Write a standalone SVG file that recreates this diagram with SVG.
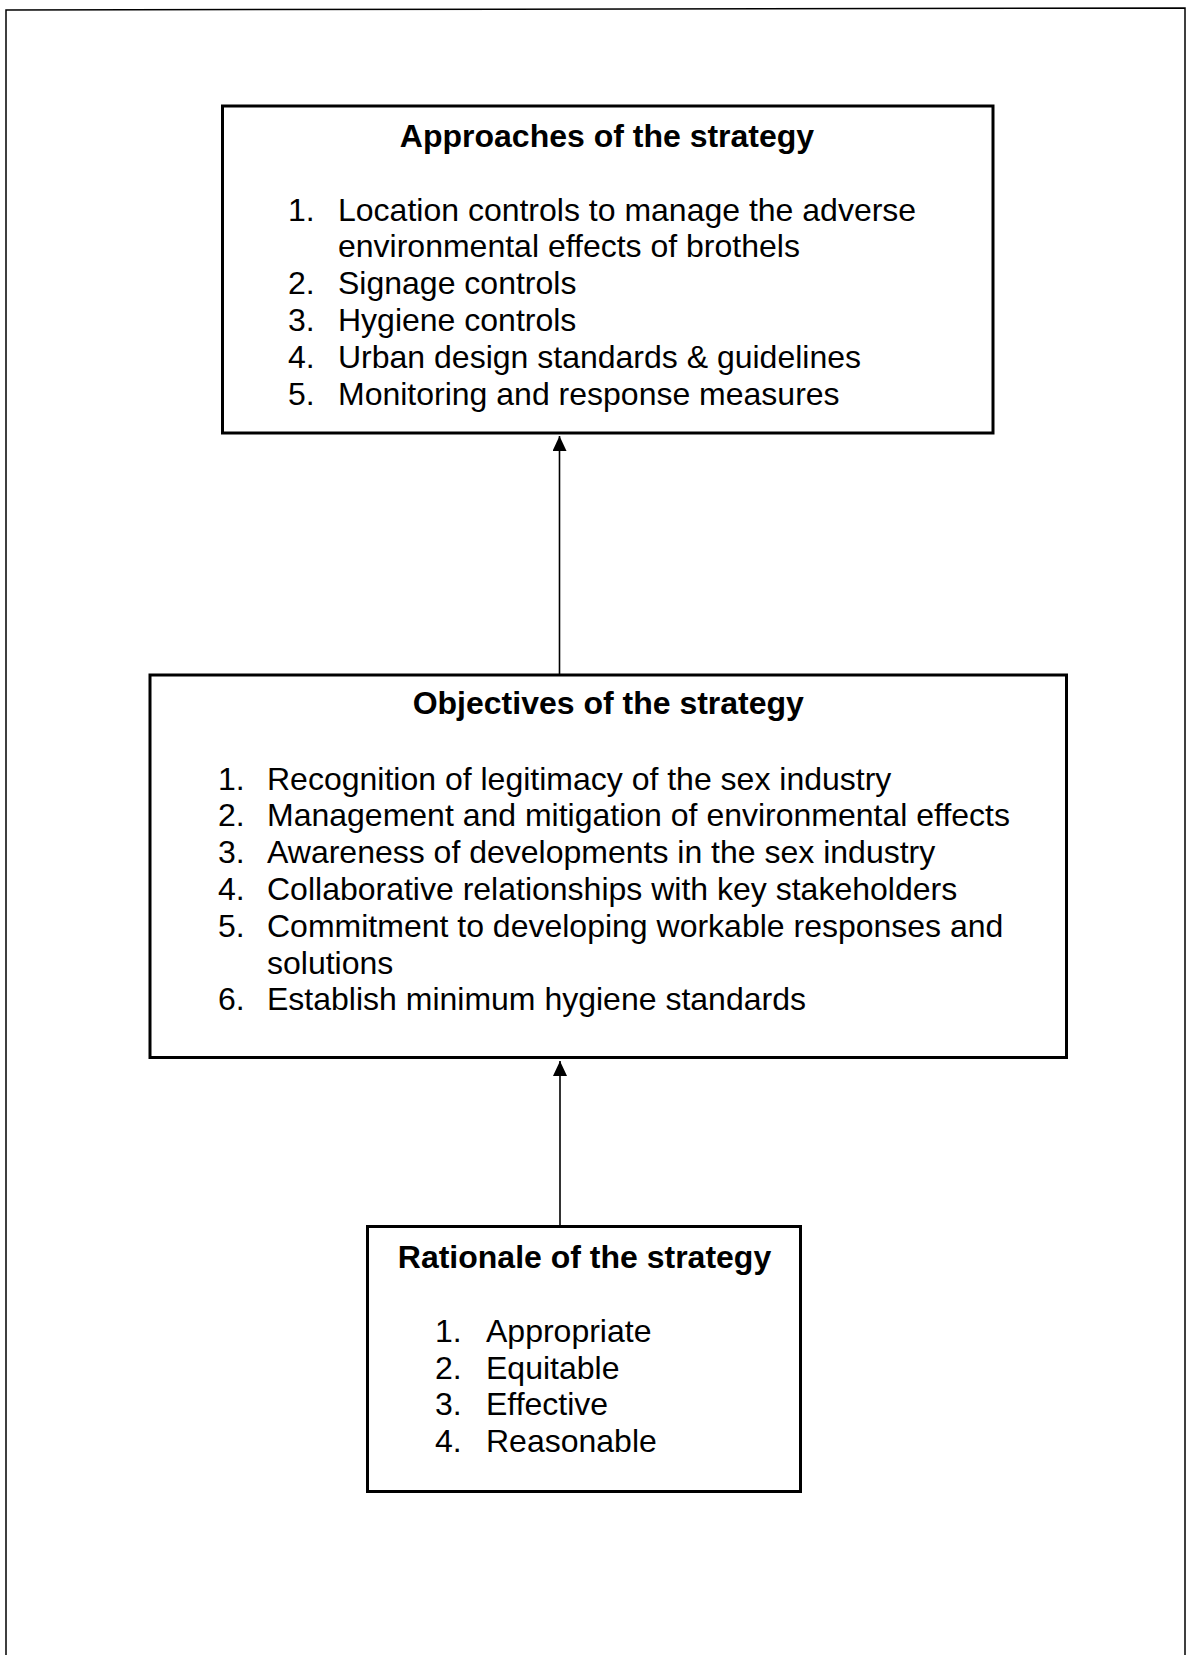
<svg xmlns="http://www.w3.org/2000/svg" width="1187" height="1655" viewBox="0 0 1187 1655">
<style>
.box{fill:#fff;stroke:#000;stroke-width:3}
.t{font-family:"Liberation Sans",Arial,sans-serif;font-size:32px;fill:#000}
.b{font-weight:bold;text-anchor:middle}
.conn{stroke:#000;stroke-width:1.6;fill:none}
</style>
<defs>
<marker id="ah" markerWidth="15" markerHeight="14" refX="15" refY="7" orient="auto" markerUnits="userSpaceOnUse" viewBox="0 0 15 14">
<path d="M0,0 L15,7 L0,14 z" fill="#000"/>
</marker>
</defs>
<rect width="1187" height="1655" fill="#fff"/>
<path d="M6,1655 L6,10 L1185,8 L1185,1655" fill="none" stroke="#000" stroke-width="1.5"/>
<g id="connectors">
<line class="conn" x1="559.5" y1="675" x2="559.5" y2="436" marker-end="url(#ah)"/>
<line class="conn" x1="560" y1="1226" x2="560" y2="1061" marker-end="url(#ah)"/>
</g>
<g id="approaches">
<rect class="box" x="222.5" y="106" width="770.5" height="327"/>
<text class="t b" x="607" y="146.5">Approaches of the strategy</text>
<text class="t" x="288" y="220.5">1.</text><text class="t" x="338" y="220.5">Location controls to manage the adverse</text>
<text class="t" x="338" y="257.3">environmental effects of brothels</text>
<text class="t" x="288" y="294.1">2.</text><text class="t" x="338" y="294.1">Signage controls</text>
<text class="t" x="288" y="330.9">3.</text><text class="t" x="338" y="330.9">Hygiene controls</text>
<text class="t" x="288" y="367.7">4.</text><text class="t" x="338" y="367.7">Urban design standards &amp; guidelines</text>
<text class="t" x="288" y="404.5">5.</text><text class="t" x="338" y="404.5">Monitoring and response measures</text>
</g>
<g id="objectives">
<rect class="box" x="150" y="675" width="916.5" height="382.5"/>
<text class="t b" x="608.3" y="714">Objectives of the strategy</text>
<text class="t" x="218" y="789.5">1.</text><text class="t" x="267" y="789.5">Recognition of legitimacy of the sex industry</text>
<text class="t" x="218" y="826.3">2.</text><text class="t" x="267" y="826.3">Management and mitigation of environmental effects</text>
<text class="t" x="218" y="863.1">3.</text><text class="t" x="267" y="863.1">Awareness of developments in the sex industry</text>
<text class="t" x="218" y="899.9">4.</text><text class="t" x="267" y="899.9">Collaborative relationships with key stakeholders</text>
<text class="t" x="218" y="936.7">5.</text><text class="t" x="267" y="936.7">Commitment to developing workable responses and</text>
<text class="t" x="267" y="973.5">solutions</text>
<text class="t" x="218" y="1010.3">6.</text><text class="t" x="267" y="1010.3">Establish minimum hygiene standards</text>
</g>
<g id="rationale">
<rect class="box" x="367.5" y="1226.5" width="433" height="265"/>
<text class="t b" x="584.5" y="1268.3">Rationale of the strategy</text>
<text class="t" x="435" y="1342">1.</text><text class="t" x="486" y="1342">Appropriate</text>
<text class="t" x="435" y="1378.8">2.</text><text class="t" x="486" y="1378.8">Equitable</text>
<text class="t" x="435" y="1415.3">3.</text><text class="t" x="486" y="1415.3">Effective</text>
<text class="t" x="435" y="1451.5">4.</text><text class="t" x="486" y="1451.5">Reasonable</text>
</g>
</svg>
